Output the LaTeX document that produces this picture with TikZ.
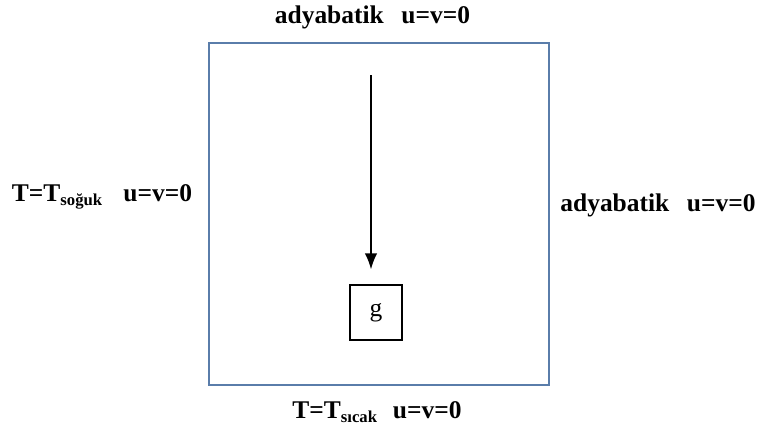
\documentclass[tikz,border=0pt]{standalone}
\usepackage{fontspec}
\setmainfont{Liberation Serif}
\usepackage{xcolor}
\usetikzlibrary{arrows.meta, positioning}
\definecolor{wallblue}{HTML}{5A7DAA}

\tikzset{
    bclabel/.style={font=\fontsize{14.5}{17}\selectfont\bfseries, inner sep=0pt},
    flow/.style={-{Latex[length=9pt, width=7pt]}, line width=0.8pt}
}
\newcommand{\lowsub}[1]{\raisebox{-0.35ex}{\fontsize{9.5}{10}\selectfont #1}}

\begin{document}
\begin{tikzpicture}
    \useasboundingbox (0,0) rectangle (15.16,8.56);

    % Cavity
    \draw[wallblue, line width=1.1pt] (4.18,0.86) rectangle (10.98,7.7);

    % Boundary conditions
    \node[bclabel] (top) at (7.45,8.22) {adyabatik\hspace{10pt}u=v=0};
    \node[bclabel] (right) at (13.16,4.46) {adyabatik\hspace{10pt}u=v=0};
    \node[bclabel] (left) at (2.04,4.62) {T=T\lowsub{soğuk}\hspace{12pt}u=v=0};
    \node[bclabel] (bottom) at (7.54,0.32) {T=T\lowsub{sıcak}\hspace{9pt}u=v=0};

    % Gravity
    \node[draw, line width=0.8pt, minimum width=1.04cm, minimum height=1.1cm,
          font=\fontsize{14.5}{17}\selectfont] (g) at (7.52,2.31) {g};
    \coordinate (src) at (7.42,7.06);
    \draw[flow, shorten >=0.3cm] (src) -- (src |- g.north);
\end{tikzpicture}
\end{document}
